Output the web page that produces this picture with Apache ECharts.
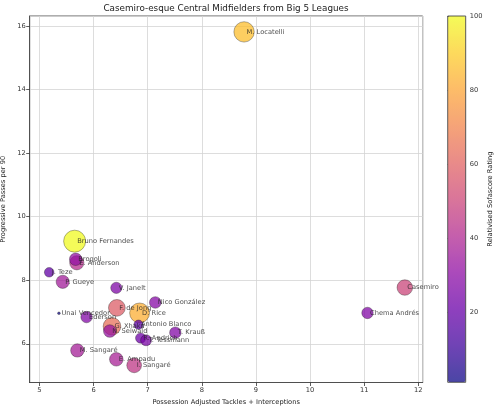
<!DOCTYPE html>
<html>
<head>
<meta charset="utf-8">
<script src="https://cdn.jsdelivr.net/npm/echarts@6/dist/echarts.min.js"></script>
<style>html,body{margin:0;padding:0;background:#fff}#c{width:500px;height:410px}</style>
</head>
<body>
<div id="c"></div>
<script>
// ---- data ----
var players = ['E. Anderson','Brogoli','Bruno Fernandes','M. Locatelli','J. Teze','P. Gueye','V. Janelt','Unai Vencedor','Ederson','F. de Jong','Nico González','D. Rice','Antonio Blanco','G. Xhaka','N. Seiwald','R. Andrich','T. Tessmann','T. Krauß','M. Sangaré','E. Ampadu','I. Sangaré','Casemiro','Chema Andrés'];
var tacklesInts = [5.69,5.67,5.65,8.78,5.18,5.43,6.42,5.36,5.87,6.43,7.14,6.85,6.83,6.34,6.30,6.87,6.97,7.51,5.70,6.42,6.75,11.75,11.06];
var progPasses = [8.55,8.66,9.23,15.82,8.25,7.95,7.76,6.96,6.84,7.13,7.30,6.97,6.60,6.55,6.40,6.18,6.11,6.35,5.79,5.51,5.32,7.77,6.97];
var ratings = [42,32,100,86,19,36,26,1.5,27,58,28,82,18,64,33,22,25,27,37,38,45,50,27];
var colorbarTicks = [20,40,60,80,100];
var ratingMin = 1.1, ratingMax = 100;

var plasma = ['#0d0887','#41049d','#6a00a8','#8f0da4','#b12a90','#cc4778','#e16462','#f2844b','#fca636','#fcce25','#f0f921'];
var plasmaFaded = ['#4a46a5','#7043b5','#8f40be','#ab4abb','#c55fac','#d9759a','#e98b89','#f5a378','#fdbc68','#fdda5c','#f4fb58'];

var pts = players.map(function(n,i){ return [tacklesInts[i], progPasses[i], ratings[i], n]; });

var chart = echarts.init(document.getElementById('c'), null, {renderer:'canvas'});
var axisCol = '#333';
var fs = 6.7;
chart.setOption({
  animation: false,
  textStyle: {fontFamily: 'DejaVu Sans'},
  title: {
    text: 'Casemiro-esque Central Midfielders from Big 5 Leagues',
    left: 226, top: 4, textAlign: 'center', padding: 0,
    textStyle: {fontSize: 8.8, fontWeight: 'normal', color: '#222', fontFamily: 'DejaVu Sans'}
  },
  grid: [
    {left: 29.7, right: 77.3, top: 16, bottom: 27.5, show: true, borderColor: axisCol, borderWidth: 0.8, containLabel: false, outerBoundsMode: 'none'},
    {left: 447.7, right: 34.3, top: 16, bottom: 27.7, show: true, borderColor: axisCol, borderWidth: 0.8, backgroundColor: 'transparent', z: 10, containLabel: false, outerBoundsMode: 'none'}
  ],
  xAxis: [
    {type: 'value', gridIndex: 0, min: 4.82, max: 12.08, splitNumber: 7,
     name: 'Possession Adjusted Tackles + Interceptions', nameLocation: 'middle', nameGap: 16,
     nameTextStyle: {fontSize: fs, color: '#222'},
     axisLine: {show: true, lineStyle: {color: axisCol, width: 0.8}},
     axisTick: {show: true, length: 3.5, lineStyle: {color: axisCol, width: 0.8}},
     axisLabel: {fontSize: fs, color: '#333', margin: 4, showMinLabel: false, showMaxLabel: false},
     splitLine: {show: true, lineStyle: {color: '#d4d4d4', width: 0.8}}},
    {type: 'value', gridIndex: 1, show: false, min: 0, max: 1}
  ],
  yAxis: [
    {type: 'value', gridIndex: 0, min: 4.78, max: 16.32, splitNumber: 6,
     name: 'Progressive Passes per 90', nameLocation: 'middle', nameGap: 17,
     nameTextStyle: {fontSize: fs, color: '#222'},
     axisLine: {show: true, lineStyle: {color: axisCol, width: 0.8}},
     axisTick: {show: true, length: 3.5, lineStyle: {color: axisCol, width: 0.8}},
     axisLabel: {fontSize: fs, color: '#333', margin: 4, showMinLabel: false, showMaxLabel: false},
     splitLine: {show: true, lineStyle: {color: '#d4d4d4', width: 0.8}}},
    {type: 'value', gridIndex: 1, position: 'right', min: ratingMin, max: ratingMax,
     name: 'Relativised Sofascore Rating', nameLocation: 'middle', nameGap: 20, nameRotate: 90,
     nameTextStyle: {fontSize: fs, color: '#222'},
     axisLine: {show: false},
     axisTick: {show: true, length: 3.5, customValues: colorbarTicks, lineStyle: {color: axisCol, width: 0.8}},
     axisLabel: {fontSize: fs, color: '#333', margin: 4, customValues: colorbarTicks},
     splitLine: {show: false}}
  ],
  visualMap: {
    type: 'continuous', min: ratingMin, max: ratingMax, dimension: 2, seriesIndex: 0,
    left: 447.7, top: 16, itemWidth: 18, itemHeight: 366.3, padding: 0,
    calculable: false, text: null, showLabel: false, orient: 'vertical',
    inRange: {color: plasma},
    controller: {inRange: {color: plasmaFaded}},
    hoverLink: false
  },
  series: [
    {type: 'scatter', xAxisIndex: 0, yAxisIndex: 0, data: pts,
     symbolSize: function(v){ return 2.2*Math.sqrt(v[2]); },
     itemStyle: {opacity: 0.75, borderColor: 'rgba(20,20,20,0.75)', borderWidth: 0.6},
     emphasis: {disabled: true}, z: 3},
    {type: 'scatter', xAxisIndex: 0, yAxisIndex: 0, data: pts, symbolSize: 1, silent: true,
     itemStyle: {color: 'rgba(0,0,0,0)', borderWidth: 0},
     label: {show: true, position: 'right', distance: 2, fontSize: fs, color: '#222',
             fontFamily: 'DejaVu Sans',
             formatter: function(p){ return p.data[3]; }},
     labelLayout: {hideOverlap: false},
     z: 4}
  ]
});
</script>
</body>
</html>
